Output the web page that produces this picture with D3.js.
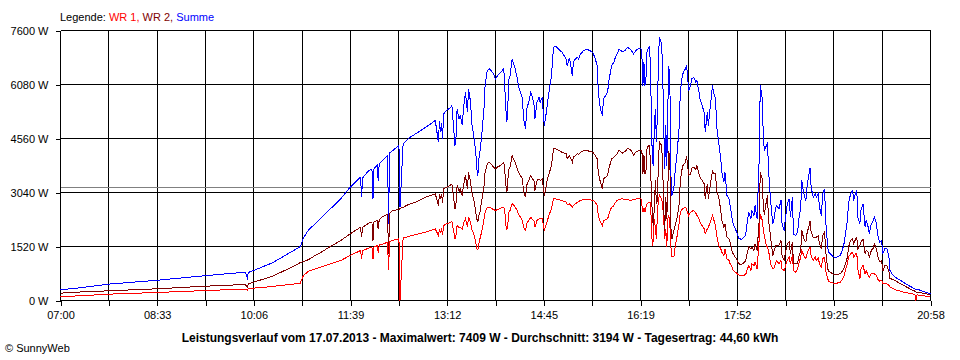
<!DOCTYPE html>
<html><head><meta charset="utf-8">
<script src="https://cdn.jsdelivr.net/npm/d3@7"></script>
<style>
body{margin:0;background:#fff;}
svg{display:block;}
text{font-family:"Liberation Sans",Arial,sans-serif;}
</style></head><body>
<svg id="c" width="960" height="360"></svg>
<script>
// minutes after 07:00
const minuten = [0,19,46,93,140,173,178,180,181,186,204,220,227,231,234,239,246,250,260,270,279,289,290,291,297,300,301,302,305,306,307,311,315,316,317,320,326,327,330,333,337,342,352,361,364,365,366,367,368,369,372,376,377,380,381,382,384,385,387,388,390,392,393,395,396,398,400,401,402,403,404,406,408,409,411,413,416,417,419,421,424,427,428,429,430,431,432,433,435,437,438,440,441,443,445,446,448,449,451,453,454,456,457,459,461,462,464,465,466,468,469,471,473,474,475,477,480,483,485,487,488,490,491,493,494,496,498,499,501,504,507,510,513,515,517,518,520,522,523,527,528,530,531,533,534,536,538,541,544,546,549,552,555,559,560,561,562,563,564,565,567,568,569,570,571,572,573,574,575,576,577,579,580,581,582,583,584,585,586,587,588,589,591,592,594,596,597,599,600,602,603,604,605,607,608,610,612,613,615,616,618,620,621,623,624,626,628,629,631,632,634,636,637,639,640,642,644,645,647,648,650,652,653,656,660,661,663,665,666,668,669,671,673,674,676,677,678,680,681,682,684,686,687,689,690,692,694,695,697,698,700,702,703,705,706,708,710,711,713,714,716,718,719,721,722,723,725,727,728,730,731,733,734,736,737,739,740,742,745,748,751,753,755,756,758,759,761,763,764,766,767,768,770,771,773,775,776,778,779,781,783,784,786,787,789,791,792,794,796,798,799,801,804,808,811,814,817,820,823,824,825,827,830,833,838];
const wr1 = [113,131,178,225,281,315,319,290,330,347,394,450,469,490,704,826,891,938,1030,1126,1267,1407,1173,1400,1480,1501,1173,1510,1540,1350,1560,1595,1641,873,1660,1690,1736,0,1760,1783,1820,1858,1924,2017,1830,2010,1900,2030,1850,2111,2158,2205,2224,1736,1850,2111,2050,2064,2000,2150,2299,2064,2346,2205,2017,1876,1641,1454,1420,1595,1736,1970,2299,2486,2627,2627,2580,2560,2533,2560,2599,2627,2486,2111,2000,2205,2486,2533,2721,2674,2627,2533,2440,2346,2252,2064,1970,2158,2252,2346,2300,2252,2064,2252,2299,2299,2299,2150,1970,2158,2252,2440,2580,2768,2862,2862,2834,2815,2790,2768,2700,2721,2700,2627,2674,2720,2768,2790,2815,2843,2843,2834,2815,2768,2674,2393,2205,2111,2252,2299,2393,2580,2620,2674,2740,2815,2840,2862,2843,2850,2815,2843,2862,2881,2674,2486,2600,2500,2627,2721,2768,2768,2299,1548,1700,2299,2017,1736,2486,2862,2956,2862,2700,2299,1736,2017,1501,2299,2400,2100,1500,1220,1250,1500,1830,2205,2486,2580,2600,2627,2560,2486,2393,2486,2510,2533,2460,2393,2300,2205,2111,2017,1876,2017,2064,2205,2393,2299,2111,1830,1548,1454,1360,1267,1454,1173,1126,1032,938,845,797,751,720,704,723,845,985,845,1032,985,1079,891,1736,2440,2252,1970,1800,1548,1500,1407,1032,891,891,1079,1126,1032,1126,891,845,938,1126,1220,1032,1267,845,797,891,1032,1220,1407,1267,1173,1313,1454,1501,1267,1126,1220,1126,1201,1032,938,1173,1220,845,610,544,507,488,488,516,582,704,845,1032,1220,1313,1360,1220,1313,1332,891,610,891,985,751,845,704,657,751,770,751,704,610,544,563,488,469,469,422,375,350,300,270,245,225,205,188,170,0,160,150,141,122,94];
const wr2 = [206,240,272,329,403,445,450,375,470,516,680,900,1000,1070,1100,1150,1280,1340,1520,1689,1876,2064,1783,2060,2177,2200,1689,2210,2252,2000,2280,2374,2420,1300,2460,2533,2561,2600,2610,2674,2720,2768,2909,3002,2674,3000,2850,3000,2750,3143,3190,3256,3265,2580,2750,3237,3060,3143,2950,3200,3519,3143,3612,3331,3050,2862,2486,2299,2200,2393,2486,2862,3237,3612,3847,3894,3800,3753,3706,3760,3800,3894,3612,3237,3050,3425,3706,3753,4082,3941,3894,3706,3612,3519,3425,3050,2909,3237,3378,3519,3450,3378,3096,3378,3425,3378,3425,3200,2956,3237,3425,3612,3800,4082,4270,4270,4222,4175,4150,4129,3988,4082,4035,3894,4035,4082,4129,4100,4175,4222,4222,4195,4175,4082,3988,3612,3331,3143,3425,3519,3706,3894,3990,4035,4060,4128,4225,4147,4194,4280,4250,4100,4203,4221,4222,3566,4100,3550,3673,4316,4362,4035,3190,2440,2100,2627,3378,2721,2815,4034,4453,4362,3821,2627,1970,2909,2299,3190,4200,3850,2019,1736,1987,2112,2345,2721,3378,3753,3827,3894,4055,3847,3518,3566,3730,3753,3686,3800,3564,3472,3378,3284,2863,3284,2862,3284,3659,3565,3566,3096,2909,2534,2252,2064,2158,1783,1736,1642,1361,1313,1220,1125,1035,1013,1107,1266,1501,1454,1501,1408,1595,1408,2252,3612,3425,2581,2422,2815,2957,2252,1783,1267,1361,1548,1548,1548,1689,1267,1125,1314,1595,1642,1314,1642,1031,1033,1033,1220,1407,1971,1735,1642,1877,2111,2233,1923,1783,1782,1783,1820,1595,1455,1829,1923,1407,891,816,788,732,732,751,825,937,1031,1220,1501,1689,1736,1595,1737,1764,1455,1548,1642,1736,1313,1407,1360,1219,1407,1482,1595,1454,1266,1097,1126,825,985,985,798,620,600,563,488,441,394,347,300,263,240,235,230,207,190,169];
const summe = [301,357,460,570,700,785,800,639,790,845,1060,1330,1450,1520,1760,1990,2176,2299,2580,2862,3190,3471,2927,3450,3659,3700,2862,3720,3800,3378,3850,3960,4082,2159,4150,4222,4363,2627,4400,4504,4598,4692,4879,5067,4457,5050,4750,5000,4550,5255,5348,5442,5489,4363,4600,5395,5100,5207,4950,5350,5864,5301,5958,5583,5020,4645,4175,3700,3519,3988,4175,4739,5450,6052,6474,6521,6427,6381,6240,6333,6427,6521,5958,5395,5020,5583,6240,6333,6803,6615,6521,6240,6052,5864,5677,5114,4833,5395,5583,5864,5771,5536,5114,5583,5724,5583,5724,5300,4926,5301,5550,5958,6333,6803,7130,7158,7065,6990,6896,6803,6615,6803,6709,6333,6709,6803,6849,6803,6943,7037,7065,7037,6971,6803,6615,5864,5395,5207,5677,5864,6146,6474,6615,6709,6803,6943,7065,7009,7037,7130,7065,6943,7065,7102,6896,6052,6700,6052,6300,7037,7130,6803,5489,3988,3800,4926,5395,4457,5301,6896,7409,7224,6521,4926,3706,4926,3800,5489,6600,6000,3519,2956,3237,3612,4175,4926,5864,6333,6427,6521,6615,6333,5911,6052,6240,6286,6146,6193,5864,5677,5489,5301,4739,5301,4926,5489,6052,5864,5677,4926,4457,3988,3612,3331,3612,2956,2862,2674,2299,2158,2017,1876,1755,1717,1830,2111,2486,2299,2533,2393,2674,2299,3988,6052,5677,4551,4222,4363,4457,3659,2815,2158,2252,2627,2674,2580,2815,2158,1970,2252,2721,2862,2346,2909,1876,1830,1924,2252,2627,3378,3002,2815,3190,3565,3734,3190,2909,3002,2909,3021,2627,2393,3002,3143,2252,1501,1360,1295,1220,1220,1267,1407,1641,1876,2252,2721,3002,3096,2815,3050,3096,2346,2158,2533,2721,2064,2252,2064,1876,2158,2252,2346,2158,1876,1641,1689,1313,1454,1454,1220,845,751,657,582,535,469,422,375,320,300,300,300,263,235,188];

const yTicks = [0,1520,3040,4560,6080,7600];
const xTickLabels = ["07:00","08:33","10:06","11:39","13:12","14:45","16:19","17:52","19:25","20:58"];
const durchschnitt = 3194;
const legendeTeile = [["Legende: ","#000000"],["WR 1, ","#ff0000"],["WR 2, ","#800000"],["Summe","#0000ff"]];
const titel = "Leistungsverlauf vom 17.07.2013 - Maximalwert: 7409 W - Durchschnitt: 3194 W - Tagesertrag: 44,60 kWh";
const copyright = "\u00a9 SunnyWeb";

const svg = d3.select("#c");
const total = 838;
const x = d3.scaleLinear().domain([0,total]).range([60.5,930.5]);
const y = d3.scaleLinear().domain([0,7600]).range([300.5,30.5]);
const gridMin = d3.range(19).map(i => i*total/18);

// grid
const g = svg.append("g").attr("shape-rendering","crispEdges");
g.selectAll(".vg").data(gridMin).join("line")
  .attr("x1",d=>Math.round(x(d)-0.5)+0.5).attr("x2",d=>Math.round(x(d)-0.5)+0.5)
  .attr("y1",y(7600)).attr("y2",y(0)).attr("stroke","#000");
g.selectAll(".hg").data(yTicks).join("line")
  .attr("x1",x(0)).attr("x2",x(total)).attr("y1",d=>y(d)).attr("y2",d=>y(d)).attr("stroke","#000");

// axes
const ya = svg.append("g").attr("transform","translate(60.5,0)").attr("shape-rendering","crispEdges")
  .call(d3.axisLeft(y).tickValues(yTicks).tickSize(5).tickSizeOuter(0).tickPadding(7).tickFormat(d=>d+" W"));
const xa = svg.append("g").attr("transform","translate(0,300.5)").attr("shape-rendering","crispEdges")
  .call(d3.axisBottom(x).tickValues(gridMin).tickSize(5).tickSizeOuter(0).tickPadding(6)
    .tickFormat((d,i)=> i%2===0 ? xTickLabels[i/2] : ""));
[ya,xa].forEach(a=>{
  a.selectAll("text").attr("font-size",11).attr("fill","#000").attr("font-family","'Liberation Sans',Arial,sans-serif");
  a.selectAll("line,path").attr("stroke","#000");
});
ya.select(".domain").remove();
xa.select(".domain").remove();

// average line
svg.append("line").attr("shape-rendering","crispEdges")
  .attr("x1",x(0)).attr("x2",x(total)).attr("y1",Math.round(y(durchschnitt)-0.5)+0.5).attr("y2",Math.round(y(durchschnitt)-0.5)+0.5)
  .attr("stroke","#808080");

// series
const idx = d3.range(minuten.length);
const serien = [[wr1,"#ff0000"],[wr2,"#800000"],[summe,"#0000ff"]];
serien.forEach(([vals,col])=>{
  const line = d3.line().x(i=>x(minuten[i])).y(i=>y(vals[i]));
  svg.append("path").datum(idx).attr("d",line).attr("fill","none")
    .attr("stroke",col).attr("stroke-width",1).attr("shape-rendering","crispEdges");
});

// legend
const lt = svg.append("text").attr("x",60).attr("y",21).attr("font-size",11).style("white-space","pre");
legendeTeile.forEach(([t,c])=> lt.append("tspan").attr("fill",c).text(t));

// title
svg.append("text").attr("x",480).attr("y",342).attr("text-anchor","middle")
  .attr("font-size",12).attr("font-weight","bold").attr("fill","#000").text(titel);
svg.append("text").attr("x",5).attr("y",352).attr("font-size",11).attr("fill","#000").text(copyright);
</script>
</body></html>
